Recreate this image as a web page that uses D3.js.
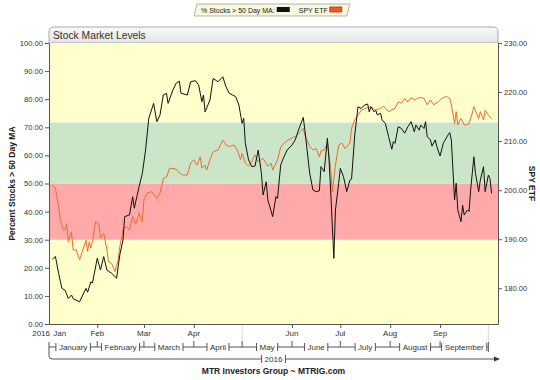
<!DOCTYPE html>
<html><head><meta charset="utf-8">
<script src="https://cdn.jsdelivr.net/npm/d3@7"></script>
<style>
body{margin:0;background:#fff;}
text{font-family:Arial,"Liberation Sans",sans-serif;}
</style>
</head><body>
<svg id="c" width="540" height="380"></svg>
<script>
// ---- data (days counted from 2016-01-01) ----
const pctDays = [3,5,7,9,11,13,15,16,20,24,25,27,28,31,33,35,37,40,43,45,47,48,51,53,54,57,59,61,63,66,68,70,72,74,75,78,80,82,83,87,89,92,94,96,97,98,101,103,106,109,111,113,115,117,119,121,122,123,125,127,129,131,133,134,136,137,140,142,143,145,147,149,152,154,156,159,160,163,165,167,169,170,172,174,175,176,178,179,181,182,184,186,188,189,191,193,195,197,199,200,201,203,204,205,207,208,210,212,214,215,216,218,220,222,224,226,228,229,231,232,234,235,236,238,239,241,242,244,246,249,250,251,253,254,255,257,258,259,261,262,263,265,266,268,269,271,272,274,275,276];
const pctValues = [23,24,18,12.7,12,9.1,10.3,9,7.9,12.7,11.3,15,14.6,23.4,19.2,24,19.2,18,16.3,24.6,29.9,38.2,38.8,45.3,41.2,48.9,53.6,61.9,73.2,78.5,72,74.4,81.5,82.1,78.5,83.3,85.7,86.4,82.1,81.5,86.2,86.6,85,79.1,81.5,75.5,79.7,87.4,86.2,88,84.4,82.1,81.5,80.9,77.9,71.4,73.2,64.3,58.4,56,56.2,61.9,53.6,45.9,50.6,44.1,38.2,45.3,44.7,56.7,59.5,61.9,63.7,65.5,69,73.5,69,53.6,47.7,47.1,47.4,56,54.2,66.1,58.4,47.7,23.4,40.6,50.1,55.4,52.4,47.1,51.2,51.6,67.3,77.3,76.7,77.9,78.3,75.5,77.3,75.5,76.1,74.4,75,72.6,71.4,66.7,62.2,64.9,64.3,70.2,69.6,67.9,70.2,72,68.4,70.8,69,70.8,69.6,72,66.7,65.5,63.3,65.5,63.1,59.8,64.3,67.3,68.1,65.5,44.1,50.1,40.6,36.4,42.3,38.8,40.6,40,47.7,59.5,53.6,47.1,51.2,56,47.1,53,51.8,46.5];
const spyDays = [3,5,7,8,10,11,12,13,15,16,18,20,22,24,25,26,27,28,30,32,33,35,37,38,40,42,44,45,47,49,51,53,55,57,59,60,62,65,68,70,72,74,76,80,82,84,87,89,91,93,95,96,98,99,101,103,106,109,111,113,116,118,120,121,123,125,127,129,131,134,137,139,140,143,145,148,150,153,155,157,159,160,163,165,167,169,170,172,174,176,177,179,181,183,185,188,189,191,193,195,198,201,204,207,209,212,216,218,220,222,224,226,228,230,232,234,236,238,240,243,245,248,250,251,253,254,255,257,259,260,262,264,265,268,269,271,272,274,276];
const spyValues = [201.1,200.4,196.6,193.9,191.9,191.9,193.2,189.5,191.5,187.8,187.8,185.8,187.8,189.8,187.5,189.5,188.2,189.5,193.6,193.2,190.2,191.2,187.8,185.4,185,183.4,185.8,188.5,191.9,192.6,191.9,194.6,193.2,195.3,193.6,198,199.4,199.7,198.3,199.4,202.4,202.7,204.5,204.3,203.5,203.1,203.1,205.5,206.2,205.1,206.8,204.5,205.1,204.1,206.2,207.8,208.2,210.2,209.2,208.9,209.2,208.2,206.2,207.5,205.5,204.9,205.8,207.2,205.8,206.5,204.9,205.5,204.1,206.2,208.8,209.9,210.3,210.8,211.1,211.9,212.6,211.2,208.9,208.2,208.5,206.8,208,208.2,209.6,204.8,199.7,205.1,209.2,209.6,208.5,209.6,212.6,214.3,215.3,216.3,216.7,217,216.3,216.7,217.1,216,216.7,218,217.7,218.7,218,218.9,218.4,218.7,218.9,218.7,217.4,218.4,217.4,218,218.7,219.1,218.7,217.4,213.6,216,213.3,214.6,213.3,213.3,213.6,215.7,217,214.6,216,214.3,216.3,215.3,214.6];
const leftTicks = [0,10,20,30,40,50,60,70,80,90,100];
const rightTicks = [180,190,200,210,220,230];
const bandEdges = [0,30,50,72,100];
const monthShort = ["Jan","Feb","Mar","Apr","","Jun","Jul","Aug","Sep"];
const monthLong = ["January","February","March","April","May","June","July","August","September"];
const yearLabel = "2016";
const chartTitle = "Stock Market Levels";
const legendLabels = ["% Stocks > 50 Day MA:","SPY ETF"];
const leftTitle = "Percent Stocks > 50 Day MA";
const rightTitle = "SPY ETF";
const footer = "MTR Investors Group ~ MTRIG.com";

// ---- layout ----
const L=49, R=498, T=43, B=324;
const bandColors = ["#ffffcc","#ffaaaa","#cbe5c9","#ffffcc"];
const blackC = "#111", orangeC = "#f06a32";
const day = d => new Date(2016, 0, 1 + d);

const svg = d3.select("#c");
const x = d3.scaleTime().domain([day(1), day(280)]).range([L, R]);
const yL = d3.scaleLinear().domain([0,100]).range([B, T]);
const yR = d3.scaleLinear().domain([172.72,230]).range([B, T]);

// title bar
const defs = svg.append("defs");
const g1 = defs.append("linearGradient").attr("id","tb").attr("x1",0).attr("y1",0).attr("x2",0).attr("y2",1);
g1.append("stop").attr("offset","0%").attr("stop-color","#fbfbfb");
g1.append("stop").attr("offset","100%").attr("stop-color","#e3e3e3");
svg.append("path").attr("d",`M${L},${T} V32 Q${L},27 ${L+5},27 H${R-5} Q${R},27 ${R},32 V${T} Z`)
  .attr("fill","url(#tb)").attr("stroke","#a9a9a9").attr("stroke-width",1);
svg.append("text").attr("x",L+4).attr("y",39).attr("font-size",10.3).attr("fill","#333").text(chartTitle);

// bands
for (let i=0;i<bandEdges.length-1;i++){
  svg.append("rect").attr("x",L).attr("width",R-L)
    .attr("y",yL(bandEdges[i+1])).attr("height",yL(bandEdges[i])-yL(bandEdges[i+1]))
    .attr("fill",bandColors[i]);
}
svg.append("line").attr("x1",L).attr("x2",R).attr("y1",yL(72)).attr("y2",yL(72))
  .attr("stroke","#fff").attr("stroke-width",1.5);

// lines
const spyLine = d3.line().x((d,i)=>x(day(spyDays[i]))).y(d=>yR(d));
const pctLine = d3.line().x((d,i)=>x(day(pctDays[i]))).y(d=>yL(d));
svg.append("path").attr("d",spyLine(spyValues)).attr("fill","none").attr("stroke",orangeC).attr("stroke-width",1);
svg.append("path").attr("d",pctLine(pctValues)).attr("fill","none").attr("stroke",blackC).attr("stroke-width",1);

// axes
function styleAxis(g){
  g.selectAll(".domain").attr("stroke","#555");
  g.selectAll(".tick line").attr("stroke","#555");
  g.selectAll(".tick text").attr("fill","#333").attr("font-size",7.6).attr("font-family","Arial,'Liberation Sans',sans-serif");
}
svg.append("g").attr("transform",`translate(${L},0)`)
  .call(d3.axisLeft(yL).tickValues(leftTicks).tickFormat(d3.format(".2f")).tickSize(4).tickSizeOuter(0).tickPadding(2))
  .call(styleAxis);
svg.append("g").attr("transform",`translate(${R},0)`)
  .call(d3.axisRight(yR).tickValues(rightTicks).tickFormat(d3.format(".2f")).tickSize(4).tickSizeOuter(0).tickPadding(2))
  .call(styleAxis);

const monthStarts = d3.timeMonth.range(new Date(2016,0,1), new Date(2016,9,2));
svg.append("g").attr("transform",`translate(0,${B})`)
  .call(d3.axisBottom(x).tickValues(monthStarts.slice(1,9).filter((d,i)=>monthShort[i+1]!=="")).tickFormat("").tickSize(4).tickSizeOuter(0))
  .call(styleAxis);

// faint guide lines (May start, period end)
[monthStarts[4], monthStarts[9]].forEach(d=>{
  svg.append("line").attr("x1",x(d)).attr("x2",x(d)).attr("y1",B+1).attr("y2",B+20)
    .attr("stroke","#d8d8d8").attr("stroke-width",1);
});

// row 1 labels
const fs = 8;
svg.append("text").attr("x",L+1).attr("y",336).attr("text-anchor","end").attr("font-size",fs).attr("fill","#333").text(yearLabel);
monthShort.forEach((m,i)=>{
  if(!m) return;
  const xx = i===0 ? x(day(pctDays[0]))+1 : x(monthStarts[i]);
  svg.append("text").attr("x",xx).attr("y",336).attr("text-anchor",i===0?"start":"middle")
    .attr("font-size",fs).attr("fill","#333").text(m);
});

// row 2 brackets
const r2 = 347, stroke="#555";
const lg = svg.append("g").attr("stroke",stroke).attr("stroke-width",1).attr("fill","none");
monthLong.forEach((m,i)=>{
  const a = Math.max(L, x(monthStarts[i])), b = x(monthStarts[i+1]);
  const mid = (a+b)/2;
  const t = svg.append("text").attr("x",mid).attr("y",r2+3).attr("text-anchor","middle")
    .attr("font-size",fs).attr("fill","#333").text(m);
  const w = t.node().getComputedTextLength();
  const c1 = mid - w/2 - 3, c2 = mid + w/2 + 3;
  lg.append("line").attr("x1",a).attr("x2",c1).attr("y1",r2).attr("y2",r2);
  lg.append("line").attr("x1",c2).attr("x2",b).attr("y1",r2).attr("y2",r2);
  lg.append("line").attr("x1",c1).attr("x2",c1).attr("y1",r2-4).attr("y2",r2+4);
  lg.append("line").attr("x1",c2).attr("x2",c2).attr("y1",r2-4).attr("y2",r2+4);
  if(i>0) lg.append("line").attr("x1",a).attr("x2",a).attr("y1",r2).attr("y2",r2-6);
});
lg.append("line").attr("x1",x(monthStarts[9])).attr("x2",x(monthStarts[9])).attr("y1",r2-5).attr("y2",r2+5);

// row 3 year range
const r3 = 359;
lg.append("path").attr("d",`M${L},${r2-5} V${r3-3} Q${L},${r3} ${L+3},${r3}`);
const ymid = (L+R)/2;
const yt = svg.append("text").attr("x",ymid).attr("y",r3+3).attr("text-anchor","middle").attr("font-size",fs).attr("fill","#333").text(yearLabel);
const yw = yt.node().getComputedTextLength();
lg.append("line").attr("x1",L+3).attr("x2",ymid-yw/2-3).attr("y1",r3).attr("y2",r3);
lg.append("line").attr("x1",ymid+yw/2+3).attr("x2",R-3).attr("y1",r3).attr("y2",r3);
lg.append("line").attr("x1",ymid-yw/2-3).attr("x2",ymid-yw/2-3).attr("y1",r3-4).attr("y2",r3+4);
lg.append("line").attr("x1",ymid+yw/2+3).attr("x2",ymid+yw/2+3).attr("y1",r3-4).attr("y2",r3+4);
svg.append("path").attr("d",`M${R+2},${r3} L${R-4},${r3-2.5} L${R-4},${r3+2.5} Z`).attr("fill","#333");

// footer
svg.append("text").attr("x",ymid).attr("y",374).attr("text-anchor","middle").attr("font-size",8.5)
  .attr("font-weight","bold").attr("fill","#222").text(footer);

// axis titles
svg.append("text").attr("transform",`translate(15,${(T+B)/2}) rotate(-90)`).attr("text-anchor","middle")
  .attr("font-size",8.5).attr("font-weight","bold").attr("fill","#222").text(leftTitle);
svg.append("text").attr("transform",`translate(529,${(T+B)/2}) rotate(90)`).attr("text-anchor","middle")
  .attr("font-size",8.5).attr("font-weight","bold").attr("fill","#222").text(rightTitle);

// legend
const legBox = svg.append("path").attr("fill","#f6f8df").attr("stroke","#b5b5a5");
let lx = 201;
const lt1 = svg.append("text").attr("x",lx).attr("y",12.5).attr("font-size",7).attr("fill","#222").text(legendLabels[0]);
lx += lt1.node().getComputedTextLength() + 2;
svg.append("rect").attr("x",lx).attr("y",7).attr("width",13).attr("height",5).attr("fill",blackC);
lx += 13 + 9;
const lt2 = svg.append("text").attr("x",lx).attr("y",12.5).attr("font-size",7).attr("fill","#222").text(legendLabels[1]);
lx += lt2.node().getComputedTextLength() + 2;
svg.append("rect").attr("x",lx).attr("y",7).attr("width",12).attr("height",5).attr("fill","#f05a28").attr("stroke","#b83010").attr("stroke-width",0.8);
lx += 12 + 8;
legBox.attr("d",`M197,4 H${lx} L${lx-3},16 H194 Z`);
</script>
</body></html>
